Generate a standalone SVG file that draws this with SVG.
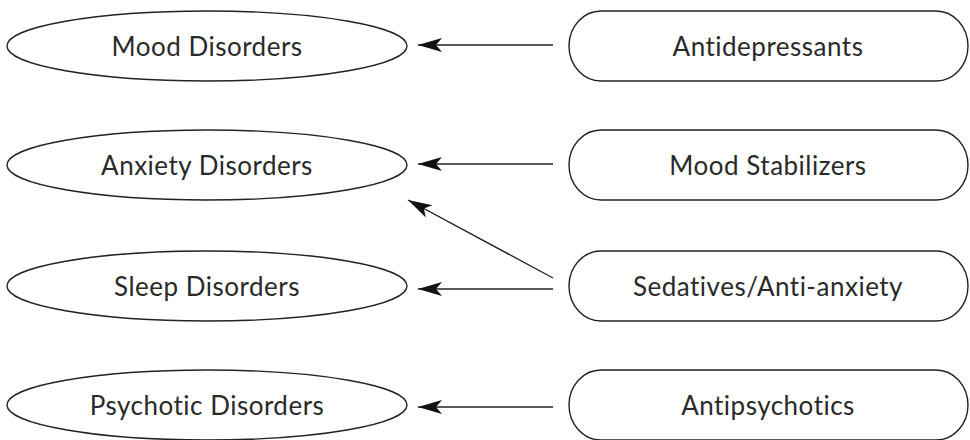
<svg xmlns="http://www.w3.org/2000/svg" width="970" height="440" viewBox="0 0 970 440">
<style>
.n{fill:#fff;stroke:#222;stroke-width:1.4}
.t{font-family:Lato,"Open Sans",sans-serif;font-size:26px;letter-spacing:0.5px;fill:#2a2a2a;text-anchor:middle;dominant-baseline:central}
.c{stroke:#222;stroke-width:1.4;fill:none;marker-end:url(#ah)}
</style>
<defs>
<marker id="ah" markerUnits="userSpaceOnUse" markerWidth="26" markerHeight="16" refX="24" refY="7" orient="auto" viewBox="0 0 26 14">
<path d="M24,7 L0,0 L6,7 L0,14 Z" fill="#111"/>
</marker>
</defs>
<rect width="970" height="440" fill="#fff"/>
<g id="mood"><ellipse class="n" cx="207" cy="46" rx="200" ry="35"/><text class="t" x="207" y="46">Mood Disorders</text></g>
<g id="anxiety"><ellipse class="n" cx="207" cy="165" rx="200" ry="35"/><text class="t" x="207" y="165">Anxiety Disorders</text></g>
<g id="sleep"><ellipse class="n" cx="207" cy="286" rx="200" ry="35"/><text class="t" x="207" y="286">Sleep Disorders</text></g>
<g id="psychotic"><ellipse class="n" cx="207" cy="405" rx="200" ry="35"/><text class="t" x="207" y="405">Psychotic Disorders</text></g>
<g id="antidepressants"><rect class="n" x="569" y="11" width="399" height="70" rx="32" ry="35"/><text class="t" x="768" y="46">Antidepressants</text></g>
<g id="stabilizers"><rect class="n" x="569" y="130" width="399" height="70" rx="32" ry="35"/><text class="t" x="768" y="165">Mood Stabilizers</text></g>
<g id="sedatives"><rect class="n" x="569" y="251" width="399" height="70" rx="32" ry="35"/><text class="t" x="768" y="286">Sedatives/Anti-anxiety</text></g>
<g id="antipsychotics"><rect class="n" x="569" y="370" width="399" height="70" rx="32" ry="35"/><text class="t" x="768" y="405">Antipsychotics</text></g>
<g id="connectors">
<line class="c" x1="553" y1="45" x2="418" y2="45"/>
<line class="c" x1="553" y1="164" x2="418" y2="164"/>
<line class="c" x1="553" y1="278" x2="408" y2="200"/>
<line class="c" x1="553" y1="289" x2="418" y2="289"/>
<line class="c" x1="553" y1="407" x2="418" y2="407"/>
</g>
</svg>
